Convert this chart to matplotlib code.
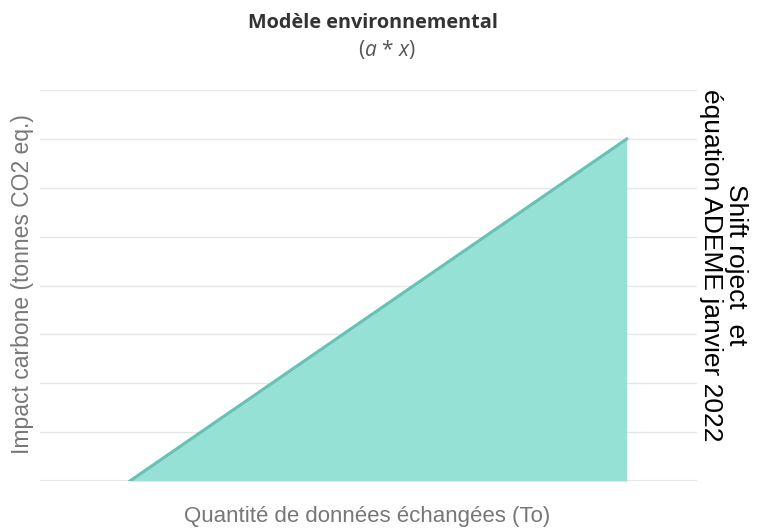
import matplotlib.pyplot as plt

# data: linear model a * x (no tick labels in the original)
x_vals = [0, 1]
y_vals = [0, 7]
y_grid = [0, 1, 2, 3, 4, 5, 6, 7, 8]

title = "Modèle environnemental"
subtitle = r"($\it{a}$ * $\it{x}$)"
x_label = "Quantité de données échangées (To)"
y_label = "Impact carbone (tonnes CO2 eq.)"
source = "Shift roject  et\néquation ADEME janvier 2022"

plt.rcParams['mathtext.fontset'] = 'custom'
plt.rcParams['mathtext.it'] = 'Open Sans:italic'
plt.rcParams['mathtext.rm'] = 'Open Sans'

fig = plt.figure(figsize=(7.59, 5.30), dpi=100)
ax = fig.add_axes([0.0527, 0.0925, 0.8653, 0.7375])

ax.fill_between(x_vals, y_vals, 0, color='#96e1d5', linewidth=0, zorder=2)
ax.plot(x_vals, y_vals, color='#6bbfb3', linewidth=2.2, zorder=3)

ax.set_xlim(-0.181, 1.141)
ax.set_ylim(0, 8)
ax.set_yticks(y_grid)
ax.grid(axis='y', color='#e6e6e6', linewidth=1, zorder=0)
ax.tick_params(left=False, bottom=False, labelleft=False, labelbottom=False)
for s in ax.spines.values():
    s.set_visible(False)
ax.axhline(0, color='#e6e6e6', linewidth=1.5, zorder=1)

fig.text(0.491, 0.957, title, ha='center', va='center', fontsize=14.3,
         fontweight='bold', color='#333333', family='Open Sans')
fig.text(0.51, 0.906, subtitle, ha='center', va='center', fontsize=15,
         color='#555555', family='Open Sans')
fig.text(0.484, 0.025, x_label, ha='center', va='center', fontsize=16,
         color='#777777', family='Liberation Sans')
fig.text(0.029, 0.464, y_label, ha='center', va='center', fontsize=16.5,
         rotation=90, color='#777777', family='Liberation Sans')
fig.text(0.953, 0.5, source, ha='center', va='center', fontsize=19,
         rotation=270, multialignment='center', color='black',
         family='Liberation Sans', linespacing=1.02)

fig.savefig('out.png', dpi=100)
